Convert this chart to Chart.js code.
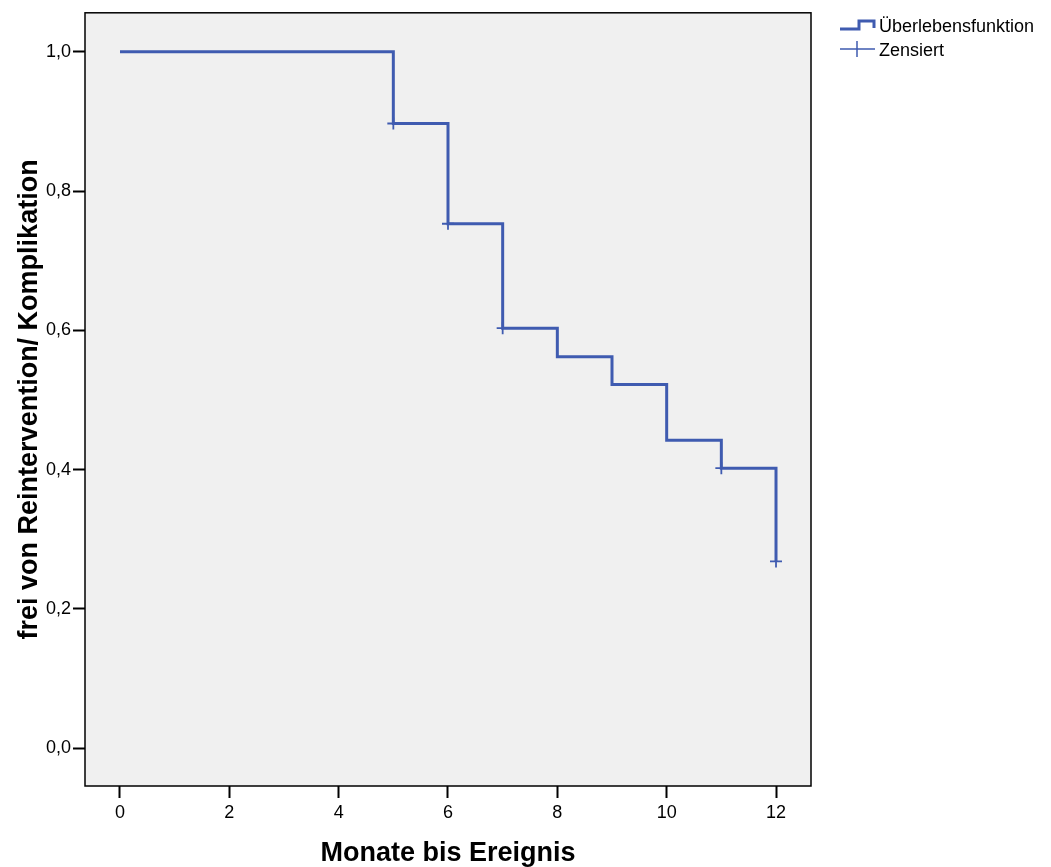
<!DOCTYPE html>
<html>
<head>
<meta charset="utf-8">
<script src="https://cdn.jsdelivr.net/npm/chart.js@4.4.0/dist/chart.umd.min.js"></script>
<style>
  html, body { margin: 0; padding: 0; background: #fff; }
  #wrap { width: 1051px; height: 867px; position: relative; }
</style>
</head>
<body>
<div id="wrap"><canvas id="chart"></canvas></div>
<script>
// step points of the survival curve
var months = [0, 5, 6, 7, 8, 9, 10, 11, 12];
var survival = [1.0, 0.897, 0.753, 0.603, 0.562, 0.522, 0.442, 0.402, 0.268];
// censored cases
var censorMonths = [5, 6, 7, 11, 12];
var censorValues = [0.897, 0.753, 0.603, 0.402, 0.268];
var xTicks = [0, 2, 4, 6, 8, 10, 12];
var yTicks = [0, 0.2, 0.4, 0.6, 0.8, 1.0];

var lineColor = '#3f5bb0';
var font = '"Liberation Sans", Arial, sans-serif';

var decorPlugin = {
	id: 'decor',
	beforeDraw(chart) {
		const a = chart.chartArea, c = chart.ctx;
		c.save();
		c.fillStyle = '#f0f0f0';
		c.fillRect(a.left, a.top, a.right - a.left, a.bottom - a.top);
		c.restore();
	},
	afterDraw(chart) {
		const a = chart.chartArea, c = chart.ctx;
		c.save();
		c.strokeStyle = '#000';
		c.lineWidth = 1.5;
		c.strokeRect(a.left, a.top, a.right - a.left, a.bottom - a.top);

		// axis titles
		c.fillStyle = '#000';
		c.font = 'bold 27px ' + font;
		c.textAlign = 'center';
		c.textBaseline = 'middle';
		c.fillText('Monate bis Ereignis', (a.left + a.right) / 2, 854);
		c.translate(30, (a.top + a.bottom) / 2);
		c.rotate(-Math.PI / 2);
		c.fillText('frei von Reintervention/ Komplikation', 0, 0);
		c.restore();

		// legend
		c.save();
		c.strokeStyle = lineColor;
		c.lineWidth = 3;
		c.beginPath();
		c.moveTo(840, 29);
		c.lineTo(859, 29);
		c.lineTo(859, 21);
		c.lineTo(874, 21);
		c.lineTo(874, 28);
		c.stroke();
		c.lineWidth = 1.5;
		c.beginPath();
		c.moveTo(840, 49);
		c.lineTo(875, 49);
		c.moveTo(857, 41);
		c.lineTo(857, 57);
		c.stroke();
		c.fillStyle = '#000';
		c.font = '18px ' + font;
		c.textAlign = 'left';
		c.textBaseline = 'middle';
		c.fillText('Überlebensfunktion', 879, 27);
		c.fillText('Zensiert', 879, 51);
		c.restore();
	}
};

function drawChart() {
	const ctx = document.getElementById('chart');
	new Chart(ctx, {
		type: 'line',
		data: {
			datasets: [{
				label: 'Überlebensfunktion',
				data: months.map((m, i) => ({x: m, y: survival[i]})),
				borderColor: lineColor,
				borderWidth: 3,
				stepped: 'before',
				pointRadius: 0,
				fill: false
			}, {
				type: 'scatter',
				label: 'Zensiert',
				data: censorMonths.map((m, i) => ({x: m, y: censorValues[i]})),
				pointStyle: 'cross',
				pointRadius: 6,
				borderColor: lineColor,
				borderWidth: 1.8,
				backgroundColor: lineColor
			}]
		},
		options: {
			responsive: true,
			maintainAspectRatio: false,
			animation: false,
			layout: { padding: { left: 0, top: 12, right: 240, bottom: 0 } },
			plugins: {
				legend: { display: false },
				tooltip: { enabled: false }
			},
			scales: {
				x: {
					type: 'linear',
					min: -0.64,
					max: 12.64,
					afterBuildTicks: (s) => { s.ticks = xTicks.map(v => ({value: v})); },
					afterFit: (s) => { s.height = 81; },
					grid: { drawOnChartArea: false, tickLength: 12, color: '#000', tickWidth: 2 },
					border: { display: false },
					ticks: { color: '#000', font: { family: font, size: 18 }, padding: 4, maxRotation: 0 }
				},
				y: {
					type: 'linear',
					min: -0.0545,
					max: 1.056,
					afterBuildTicks: (s) => { s.ticks = yTicks.map(v => ({value: v})); },
					afterFit: (s) => { s.width = 85; },
					grid: { drawOnChartArea: false, tickLength: 12, color: '#000', tickWidth: 2 },
					border: { display: false },
					ticks: {
						color: '#000', font: { family: font, size: 18 }, padding: 2,
						callback: (v) => v.toFixed(1).replace('.', ',')
					}
				}
			}
		},
		plugins: [decorPlugin]
	});
}

document.addEventListener("DOMContentLoaded", (e) => {
	drawChart();
});
</script>
</body>
</html>
